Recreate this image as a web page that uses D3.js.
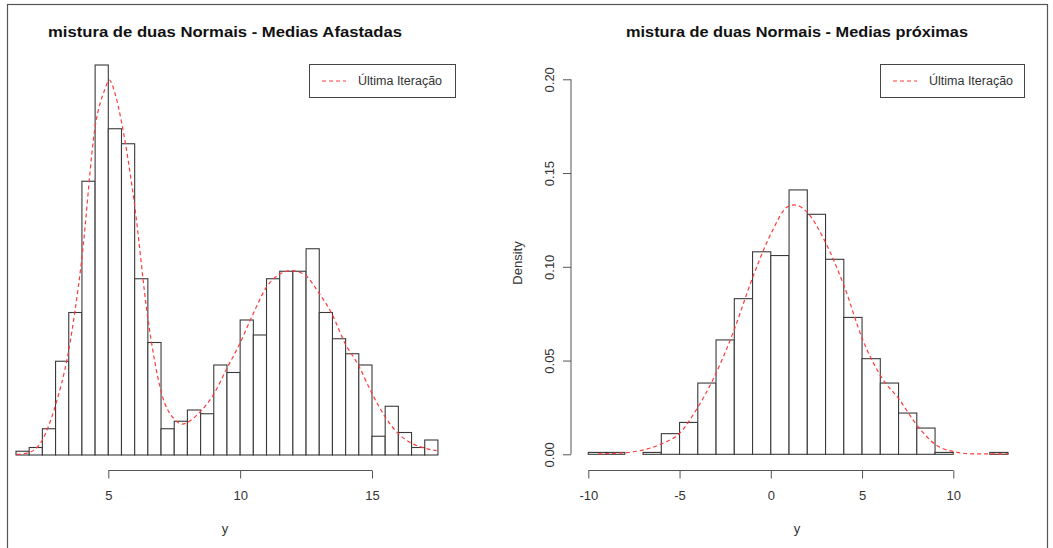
<!DOCTYPE html>
<html>
<head>
<meta charset="utf-8">
<script src="https://cdn.jsdelivr.net/npm/d3@7"></script>
<style>
  body { margin: 0; background: #fff; }
  text { font-family: 'Liberation Sans', Arial, sans-serif; }
</style>
</head>
<body>
<div id="chart"></div>
<script>
const width = 1053;
const height = 548;

// left histogram: bins of 0.5 from 1.5 to 17.5 (density)
const leftBreaks = d3.range(1.5, 17.51, 0.5);
const leftDensity = [
  0.002, 0.004, 0.014, 0.050, 0.076, 0.146, 0.208, 0.174, 0.166, 0.094, 0.060,
  0.014, 0.018, 0.024, 0.022, 0.048, 0.044, 0.072, 0.064, 0.094, 0.098, 0.098,
  0.110, 0.076, 0.062, 0.054, 0.048, 0.010, 0.026, 0.012, 0.004, 0.008,
];
// fitted curve
const leftCurveX = [
  1.53, 1.97, 2.5, 2.98, 3.48, 3.99, 4.5, 4.87, 5.04, 5.25, 5.51, 5.99, 6.49,
  7.02, 7.53, 7.79, 8.48, 8.98, 9.49, 9.99, 10.5, 11.01, 11.51, 11.95, 12.46,
  12.96, 13.47, 13.98, 14.48, 14.99, 15.49, 15.99, 16.51, 17.01, 17.45,
];
const leftCurveY = [
  0.0003, 0.0012, 0.008, 0.0258, 0.0544, 0.104, 0.175, 0.195, 0.2, 0.193,
  0.177, 0.134, 0.074, 0.033, 0.0187, 0.0165, 0.023, 0.032, 0.046, 0.0595,
  0.0755, 0.0898, 0.0965, 0.0983, 0.096, 0.087, 0.0755, 0.0595, 0.048, 0.0331,
  0.0205, 0.0115, 0.0062, 0.0036, 0.0023,
];

// right histogram: bins of 1 from -10 to 13
const rightBreaks = d3.range(-10, 13.01, 1);
const rightDensity = [
  0.001, 0.001, 0.000, 0.001, 0.011, 0.017, 0.038, 0.061, 0.083, 0.108, 0.106,
  0.141, 0.128, 0.104, 0.073, 0.051, 0.038, 0.022, 0.014, 0.001, 0.000, 0.000,
  0.001,
];
const rightCurveX = [
  -9.47, -7.92, -6.83, -5.91, -5.0, -4.09, -3.09, -2.08, -0.99, 0.02, 0.93,
  1.29, 2.03, 2.93, 4.03, 5.04, 6.04, 7.04, 8.05, 9.05, 10.05, 11.14, 12.97,
];
const rightCurveY = [
  0.0002, 0.0009, 0.0027, 0.0059, 0.0112, 0.0236, 0.0414, 0.0645, 0.0944,
  0.1179, 0.1321, 0.133, 0.1287, 0.1143, 0.0894, 0.061, 0.0415, 0.0292, 0.015,
  0.005, 0.0014, 0.0002, 0.0002,
];

const leftXTicks = [5, 10, 15];
const rightXTicks = [-10, -5, 0, 5, 10];
const rightYTicks = [0, 0.05, 0.1, 0.15, 0.2];

const titles = [
  'mistura de duas Normais - Medias Afastadas',
  'mistura de duas Normais - Medias próximas',
];
const legendLabel = 'Última Iteração';

const barStroke = '#3a3a3a';
const curveColor = '#ff3b3b';
const textColor = '#333';

const svg = d3
  .select('#chart')
  .append('svg')
  .attr('width', width)
  .attr('height', height);

// window frame
svg
  .append('rect')
  .attr('x', 7.5)
  .attr('y', 4.5)
  .attr('width', 1040)
  .attr('height', 560)
  .attr('fill', 'none')
  .attr('stroke', '#555')
  .attr('stroke-width', 1.2);

const drawPanel = (opt) => {
  const g = svg.append('g');
  const xScale = d3.scaleLinear().domain(opt.xDomain).range(opt.xRange);
  const yScale = d3.scaleLinear().domain([0, 0.2]).range(opt.yRange);

  const bins = opt.density.map((d, i) => ({
    x0: opt.breaks[i],
    x1: opt.breaks[i + 1],
    d: d,
  }));

  g.append('g')
    .selectAll('rect')
    .data(bins)
    .enter()
    .append('rect')
    .attr('x', (b) => xScale(b.x0))
    .attr('y', (b) => yScale(b.d))
    .attr('width', (b) => xScale(b.x1) - xScale(b.x0))
    .attr('height', (b) => yScale(0) - yScale(b.d))
    .attr('fill', 'white')
    .attr('stroke', barStroke)
    .attr('stroke-width', 1.1);

  const pts = opt.curveX.map((x, i) => [x, opt.curveY[i]]);
  const line = d3
    .line()
    .x((p) => xScale(p[0]))
    .y((p) => yScale(p[1]))
    .curve(d3.curveMonotoneX);

  g.append('path')
    .datum(pts)
    .attr('d', line)
    .attr('fill', 'none')
    .attr('stroke', curveColor)
    .attr('stroke-width', 1.2)
    .attr('stroke-dasharray', '4,3');

  // x axis (R style: line spans first to last tick)
  const xAxis = d3
    .axisBottom(xScale)
    .tickValues(opt.xTicks)
    .tickFormat((d) => String(d))
    .tickSize(8)
    .tickSizeOuter(0)
    .tickPadding(12);
  const ax = g
    .append('g')
    .attr('transform', `translate(0, ${opt.axisY})`)
    .call(xAxis);
  ax.select('.domain').remove();
  ax.append('line')
    .attr('x1', xScale(opt.xTicks[0]))
    .attr('x2', xScale(opt.xTicks[opt.xTicks.length - 1]))
    .attr('stroke', '#555');
  ax.selectAll('.tick line').attr('stroke', '#555');
  ax.selectAll('.tick text')
    .attr('fill', textColor)
    .style('font-size', '13px')
    .style('font-family', "'Liberation Sans', Arial, sans-serif");

  // x label, centred on the plot region like the title
  g.append('text')
    .attr('x', opt.titleX)
    .attr('y', 533)
    .attr('text-anchor', 'middle')
    .attr('fill', textColor)
    .style('font-size', '13px')
    .text('y');

  if (opt.yAxisX) {
    const yAxis = d3
      .axisLeft(yScale)
      .tickValues(rightYTicks)
      .tickFormat(d3.format('.2f'))
      .tickSize(8)
      .tickSizeOuter(0);
    const ay = g
      .append('g')
      .attr('transform', `translate(${opt.yAxisX}, 0)`)
      .call(yAxis);
    ay.select('.domain').remove();
    ay.append('line')
      .attr('y1', yScale(0))
      .attr('y2', yScale(0.2))
      .attr('stroke', '#555');
    ay.selectAll('.tick line').attr('stroke', '#555');
    // rotated labels sitting left of the ticks
    ay.selectAll('.tick text')
      .attr('transform', 'rotate(-90)')
      .attr('text-anchor', 'middle')
      .attr('x', 0)
      .attr('y', -22)
      .attr('dy', '0.35em')
      .attr('fill', textColor)
      .style('font-size', '13px')
      .style('font-family', "'Liberation Sans', Arial, sans-serif");

    g.append('text')
      .attr('transform', `translate(${opt.yAxisX - 54}, 263) rotate(-90)`)
      .attr('text-anchor', 'middle')
      .attr('dy', '0.35em')
      .attr('fill', textColor)
      .style('font-size', '13px')
      .text('Density');
  }

  // title
  g.append('text')
    .attr('x', opt.titleX)
    .attr('y', 37)
    .attr('text-anchor', 'middle')
    .attr('fill', '#111')
    .attr('textLength', opt.titleW)
    .attr('lengthAdjust', 'spacingAndGlyphs')
    .style('font-size', '15.5px')
    .style('font-weight', 'bold')
    .text(opt.title);

  // legend
  const lg = g.append('g').attr('transform', `translate(${opt.legendX}, 64)`);
  lg.append('rect')
    .attr('x', 0.5)
    .attr('y', 0.5)
    .attr('width', opt.legendW)
    .attr('height', 33)
    .attr('fill', 'white')
    .attr('stroke', '#444');
  lg.append('line')
    .attr('x1', 13)
    .attr('x2', 37)
    .attr('y1', 17)
    .attr('y2', 17)
    .attr('stroke', curveColor)
    .attr('stroke-width', 1.2)
    .attr('stroke-dasharray', '4,3');
  lg.append('text')
    .attr('x', 49)
    .attr('y', 17)
    .attr('dy', '0.35em')
    .attr('fill', textColor)
    .style('font-size', '12.5px')
    .text(legendLabel);
};

drawPanel({
  breaks: leftBreaks,
  density: leftDensity,
  curveX: leftCurveX,
  curveY: leftCurveY,
  xDomain: [5, 15],
  xRange: [108.3, 372],
  yRange: [455, 80],
  xTicks: leftXTicks,
  axisY: 470.5,
  title: titles[0],
  titleX: 225,
  titleW: 354,
  legendX: 309,
  legendW: 146,
});

drawPanel({
  breaks: rightBreaks,
  density: rightDensity,
  curveX: rightCurveX,
  curveY: rightCurveY,
  xDomain: [-10, 10],
  xRange: [588.3, 953.3],
  yRange: [454.3, 79.3],
  xTicks: rightXTicks,
  axisY: 470.5,
  yAxisX: 571,
  title: titles[1],
  titleX: 797,
  titleW: 342,
  legendX: 880,
  legendW: 144,
});
</script>
</body>
</html>
